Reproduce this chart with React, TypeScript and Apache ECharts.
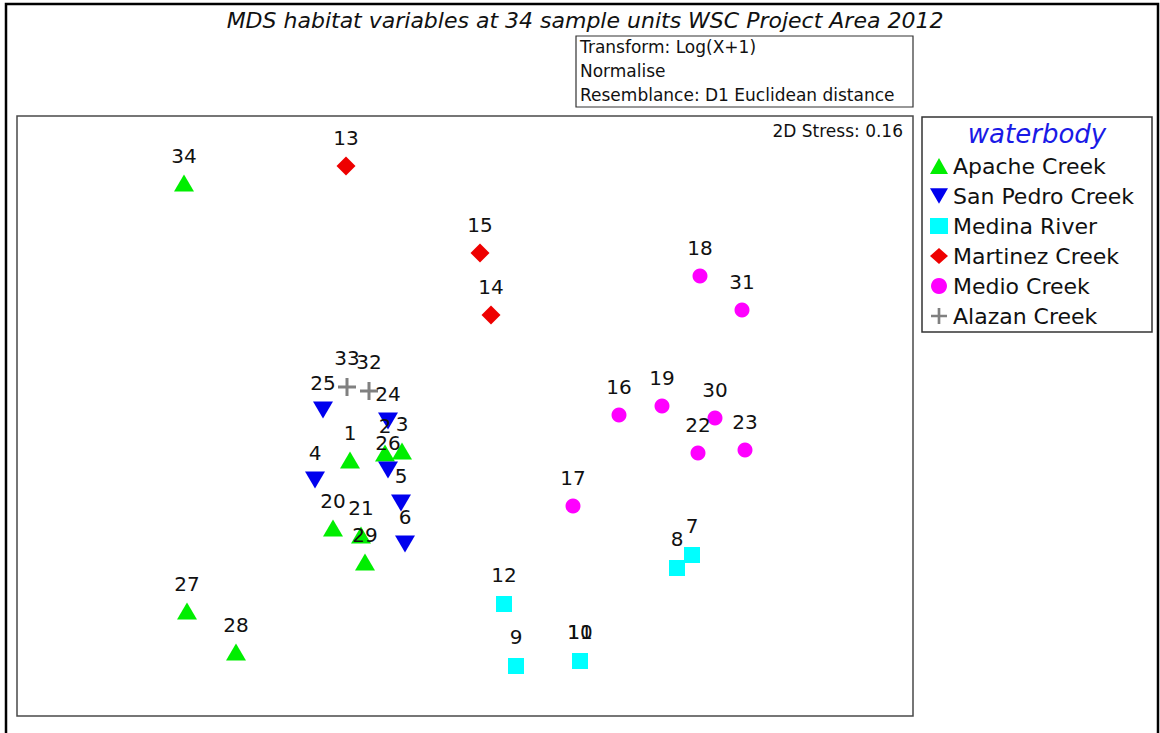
import React, { useEffect, useRef } from "react";
import * as echarts from "echarts";

// MDS ordination coordinates
const sampleIds = [
  1, 2, 3, 4, 5, 6, 7, 8, 9, 10, 11, 12, 13, 14, 15, 16, 17,
  18, 19, 20, 21, 22, 23, 24, 25, 26, 27, 28, 29, 30, 31, 32, 33, 34,
];
const mdsX = [
  -1.15, -0.8, -0.63, -1.5, -0.64, -0.6, 2.27, 2.12, 0.51, 1.15, 1.15, 0.39, -1.19, 0.26, 0.15, 1.54, 1.08,
  2.35, 1.97, -1.32, -1.04, 2.33, 2.8, -0.77, -1.42, -0.77, -2.78, -2.29, -1.0, 2.5, 2.77, -0.96, -1.18, -2.81,
];
const mdsY = [
  -0.44, -0.37, -0.35, -0.64, -0.87, -1.28, -1.39, -1.52, -2.5, -2.45, -2.45, -1.88, 2.5, 1.01, 1.63, 0.01, -0.9,
  1.4, 0.1, -1.12, -1.19, -0.37, -0.34, -0.05, 0.06, -0.54, -1.95, -2.36, -1.46, -0.02, 1.06, 0.25, 0.29, 2.33,
];
const sampleGroup = [
  "Apache Creek", "Apache Creek", "Apache Creek", "San Pedro Creek", "San Pedro Creek", "San Pedro Creek",
  "Medina River", "Medina River", "Medina River", "Medina River", "Medina River", "Medina River",
  "Martinez Creek", "Martinez Creek", "Martinez Creek",
  "Medio Creek", "Medio Creek", "Medio Creek", "Medio Creek",
  "Apache Creek", "Apache Creek", "Medio Creek", "Medio Creek",
  "San Pedro Creek", "San Pedro Creek", "San Pedro Creek",
  "Apache Creek", "Apache Creek", "Apache Creek", "Medio Creek", "Medio Creek",
  "Alazan Creek", "Alazan Creek", "Apache Creek",
];
const groupNames = ["Apache Creek", "San Pedro Creek", "Medina River", "Martinez Creek", "Medio Creek", "Alazan Creek"];

const titleText = "MDS habitat variables at 34 sample units WSC Project Area 2012";
const noteLines = ["Transform: Log(X+1)", "Normalise", "Resemblance: D1 Euclidean distance"];
const stressText = "2D Stress: 0.16";
const legendTitle = "waterbody";

const FONT = '"DejaVu Sans", sans-serif';

const groupStyle: Record<string, { color: string; symbol: string; size: any; dist: number }> = {
  "Apache Creek": { color: "#00ee00", symbol: "triangle", size: [20, 17], dist: 9 },
  "San Pedro Creek": { color: "#0000ee", symbol: "path://M0,0H20L10,17Z", size: [20, 17], dist: 9 },
  "Medina River": { color: "#00ffff", symbol: "rect", size: 16, dist: 11 },
  "Martinez Creek": { color: "#ee0000", symbol: "diamond", size: 19, dist: 9 },
  "Medio Creek": { color: "#ff00ff", symbol: "circle", size: 15, dist: 11 },
  "Alazan Creek": {
    color: "#808080",
    symbol: "path://M7.5,0H10.5V18H7.5Z M0,7.5H18V10.5H0Z",
    size: 18,
    dist: 10,
  },
};

export default function App() {
  const ref = useRef<HTMLDivElement>(null);
  useEffect(() => {
    document.body.style.margin = "0";
    const chart = echarts.init(ref.current!, null, { renderer: "svg" });
    const series = groupNames.map((g) => {
      const st = groupStyle[g];
      const data: any[] = [];
      sampleIds.forEach((id, i) => {
        if (sampleGroup[i] === g) data.push([mdsX[i], mdsY[i], id]);
      });
      return {
        name: g,
        type: "scatter",
        data,
        symbol: st.symbol,
        symbolSize: st.size,
        itemStyle: { color: st.color, opacity: 1 },
        label: {
          show: true,
          position: "top",
          distance: st.dist,
          formatter: (p: any) => String(p.value[2]),
          color: "#111",
          fontFamily: FONT,
          fontSize: 20,
          lineHeight: 20,
        },
        emphasis: { disabled: true },
      };
    });
    chart.setOption({
      animation: false,
      backgroundColor: "#ffffff",
      grid: {
        left: 17,
        top: 116,
        width: 896,
        height: 600,
        show: true,
        borderColor: "#4a4a4a",
        borderWidth: 1.5,
        backgroundColor: "transparent",
      },
      xAxis: { type: "value", min: -4.48, max: 4.48, show: false },
      yAxis: { type: "value", min: -3, max: 3, show: false },
      legend: {
        orient: "vertical",
        left: 930,
        top: 155,
        padding: 0,
        itemWidth: 18,
        itemHeight: 16,
        itemGap: 8,
        data: groupNames,
        textStyle: { fontFamily: FONT, fontSize: 22, lineHeight: 22, color: "#111" },
        selectedMode: false,
      },
      graphic: [
        {
          type: "rect",
          shape: { x: 6, y: 4, width: 1152, height: 780 },
          style: { fill: "none", stroke: "#000", lineWidth: 2.5 },
          silent: true,
        },
        {
          type: "text",
          x: 585,
          y: 20,
          style: {
            text: titleText,
            fontFamily: FONT,
            fontStyle: "italic",
            fontSize: 22,
            fill: "#111",
            align: "center",
            verticalAlign: "middle",
          },
        },
        {
          type: "rect",
          shape: { x: 576, y: 36, width: 337, height: 71 },
          style: { fill: "#fff", stroke: "#333", lineWidth: 1.2 },
        },
        ...noteLines.map((t, i) => ({
          type: "text",
          x: 580,
          y: 47 + i * 24,
          style: { text: t, fontFamily: FONT, fontSize: 17, fill: "#111", align: "left", verticalAlign: "middle" },
        })),
        {
          type: "text",
          x: 903,
          y: 131,
          style: { text: stressText, fontFamily: FONT, fontSize: 17, fill: "#111", align: "right", verticalAlign: "middle" },
        },
        {
          type: "rect",
          shape: { x: 922, y: 117, width: 230, height: 215 },
          style: { fill: "none", stroke: "#333", lineWidth: 1.5 },
        },
        {
          type: "text",
          x: 1037,
          y: 134,
          style: {
            text: legendTitle,
            fontFamily: FONT,
            fontStyle: "italic",
            fontSize: 26,
            fill: "#1a1ae6",
            align: "center",
            verticalAlign: "middle",
          },
        },
      ],
      series,
    });
    return () => chart.dispose();
  }, []);
  return <div ref={ref} style={{ width: 1160, height: 733 }} />;
}
